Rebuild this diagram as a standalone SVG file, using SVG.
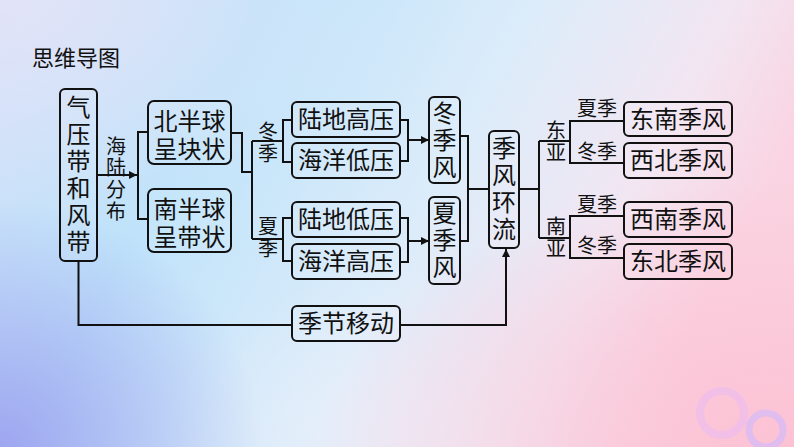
<svg xmlns="http://www.w3.org/2000/svg" width="794" height="447" viewBox="0 0 794 447">
<defs>
<linearGradient id="bg" x1="0" y1="0" x2="1" y2="0.3">
<stop offset="0" stop-color="#cfe0f8"/>
<stop offset="0.3" stop-color="#bfe3fa"/>
<stop offset="0.62" stop-color="#dcecfa"/>
<stop offset="0.85" stop-color="#f2e6f2"/>
<stop offset="1" stop-color="#fad4e2"/>
</linearGradient>
<radialGradient id="purp" cx="0" cy="1" r="0.55" gradientTransform="scale(0.6,1)">
<stop offset="0" stop-color="#9ea6f0" stop-opacity="1"/>
<stop offset="1" stop-color="#9ea6f0" stop-opacity="0"/>
</radialGradient>
<radialGradient id="tl" cx="0" cy="0" r="0.5">
<stop offset="0" stop-color="#e4e4f8" stop-opacity="0.9"/>
<stop offset="1" stop-color="#e4e4f8" stop-opacity="0"/>
</radialGradient>
<radialGradient id="pink" cx="1" cy="1" r="0.6">
<stop offset="0" stop-color="#fcc2d4" stop-opacity="1"/>
<stop offset="1" stop-color="#fcc2d4" stop-opacity="0"/>
</radialGradient>
<radialGradient id="mid" cx="0.55" cy="0.95" r="0.35">
<stop offset="0" stop-color="#eef0fa" stop-opacity="0.7"/>
<stop offset="1" stop-color="#eef0fa" stop-opacity="0"/>
</radialGradient>
<marker id="arr" viewBox="0 0 10 10" refX="10" refY="5" markerWidth="10" markerHeight="8" markerUnits="userSpaceOnUse" orient="auto">
<path d="M0,0 L10,5 L0,10 z" fill="#111"/>
</marker>
<style>
.box{fill:#ffffff;fill-opacity:0.08;stroke:#111;stroke-width:2}
.t{font-family:"Noto Sans CJK SC","Noto Sans CJK JP",sans-serif;font-size:24px;fill:#111;text-anchor:middle}
.s{font-family:"Noto Sans CJK SC","Noto Sans CJK JP",sans-serif;font-size:20px;fill:#111;text-anchor:middle}
.vt{font-family:"Noto Sans CJK SC","Noto Sans CJK JP",sans-serif;font-size:24px;fill:#111;text-anchor:middle;writing-mode:vertical-rl;letter-spacing:3px}
.vs{font-family:"Noto Sans CJK SC","Noto Sans CJK JP",sans-serif;font-size:20px;fill:#111;text-anchor:middle;writing-mode:vertical-rl;letter-spacing:1.6px}
.ln{fill:none;stroke:#111;stroke-width:2}
</style>
</defs>
<rect width="794" height="447" fill="url(#bg)"/>
<rect width="794" height="447" fill="url(#tl)"/>
<rect width="794" height="447" fill="url(#mid)"/>
<rect width="794" height="447" fill="url(#purp)"/>
<rect width="794" height="447" fill="url(#pink)"/>
<circle cx="722" cy="413" r="22" fill="none" stroke="#ecbcf0" stroke-opacity="0.65" stroke-width="8"/>
<circle cx="766" cy="430" r="17" fill="none" stroke="#d8bcf4" stroke-opacity="0.8" stroke-width="7"/>

<text x="32" y="66" font-family="Noto Sans CJK SC, sans-serif" font-size="22" fill="#111">思维导图</text>

<g id="connectors">
<path class="ln" d="M97,175 H137" marker-end="url(#arr)"/>
<path class="ln" d="M148,132 H138 V219 H148"/>
<path class="ln" d="M231,133 H242 V172 H252"/>
<path class="ln" d="M252,141 V239"/>
<path class="ln" d="M252,141 H283"/>
<path class="ln" d="M292,120 H283 V162 H292"/>
<path class="ln" d="M252,239 H283"/>
<path class="ln" d="M292,218 H283 V261 H292"/>
<path class="ln" d="M400,120 H408 V161 H400"/>
<path class="ln" d="M408,140 H429" marker-end="url(#arr)"/>
<path class="ln" d="M400,218 H408 V262 H400"/>
<path class="ln" d="M408,241 H429" marker-end="url(#arr)"/>
<path class="ln" d="M460,136 H468 V241 H460"/>
<path class="ln" d="M468,189 H489"/>
<path class="ln" d="M519,189 H539"/>
<path class="ln" d="M539,141 V238"/>
<path class="ln" d="M539,141 H570"/>
<path class="ln" d="M624,121 H570 V163 H624"/>
<path class="ln" d="M539,238 H570"/>
<path class="ln" d="M624,216 H570 V258 H624"/>
<path class="ln" d="M78.5,261 V325 H292"/>
<path class="ln" d="M400,325 H506 V249" marker-end="url(#arr)"/>
</g>

<g id="labels">
<text class="vs" x="116" y="179.5">海陆分布</text>
<text class="vs" x="268" y="143">冬季</text>
<text class="vs" x="268" y="238.5">夏季</text>
<text class="vs" x="556" y="142">东亚</text>
<text class="vs" x="556" y="238">南亚</text>
<text class="s" x="597" y="116">夏季</text>
<text class="s" x="597" y="159">冬季</text>
<text class="s" x="597" y="212">夏季</text>
<text class="s" x="597" y="253">冬季</text>
</g>

<g id="n-qiya">
<rect class="box" x="60" y="89" width="37" height="172" rx="5"/>
<text class="vt" x="78.5" y="176">气压带和风带</text>
</g>
<g id="n-north">
<rect class="box" x="148" y="101" width="83" height="63" rx="6"/>
<text class="t" x="189.5" y="130">北半球<tspan x="189.5" dy="28">呈块状</tspan></text>
</g>
<g id="n-south">
<rect class="box" x="148" y="189" width="83" height="63" rx="6"/>
<text class="t" x="189.5" y="218">南半球<tspan x="189.5" dy="28">呈带状</tspan></text>
</g>
<g id="n-ludigaoya">
<rect class="box" x="292" y="102" width="108" height="35" rx="5"/>
<text class="t" x="346" y="128">陆地高压</text>
</g>
<g id="n-haiyangdiya">
<rect class="box" x="292" y="143" width="108" height="35" rx="5"/>
<text class="t" x="346" y="169">海洋低压</text>
</g>
<g id="n-ludidiya">
<rect class="box" x="292" y="202" width="108" height="35" rx="5"/>
<text class="t" x="346" y="228">陆地低压</text>
</g>
<g id="n-haiyanggaoya">
<rect class="box" x="292" y="244" width="108" height="35" rx="5"/>
<text class="t" x="346" y="270">海洋高压</text>
</g>
<g id="n-dongjifeng">
<rect class="box" x="429" y="97" width="31" height="86" rx="5"/>
<text class="vt" x="444.5" y="141.5">冬季风</text>
</g>
<g id="n-xiajifeng">
<rect class="box" x="429" y="197" width="31" height="87" rx="5"/>
<text class="vt" x="444.5" y="241.5">夏季风</text>
</g>
<g id="n-jifenghuanliu">
<rect class="box" x="489" y="131" width="30" height="117" rx="5"/>
<text class="vt" x="504" y="189.5">季风环流</text>
</g>
<g id="n-dongnan">
<rect class="box" x="624" y="102" width="108" height="34" rx="5"/>
<text class="t" x="678" y="128">东南季风</text>
</g>
<g id="n-xibei">
<rect class="box" x="624" y="143" width="108" height="35" rx="5"/>
<text class="t" x="678" y="169">西北季风</text>
</g>
<g id="n-xinan">
<rect class="box" x="624" y="202" width="108" height="35" rx="5"/>
<text class="t" x="678" y="228">西南季风</text>
</g>
<g id="n-dongbei">
<rect class="box" x="624" y="244" width="108" height="35" rx="5"/>
<text class="t" x="678" y="270">东北季风</text>
</g>
<g id="n-jijie">
<rect class="box" x="292" y="306" width="108" height="35" rx="5"/>
<text class="t" x="346" y="332">季节移动</text>
</g>
</svg>
